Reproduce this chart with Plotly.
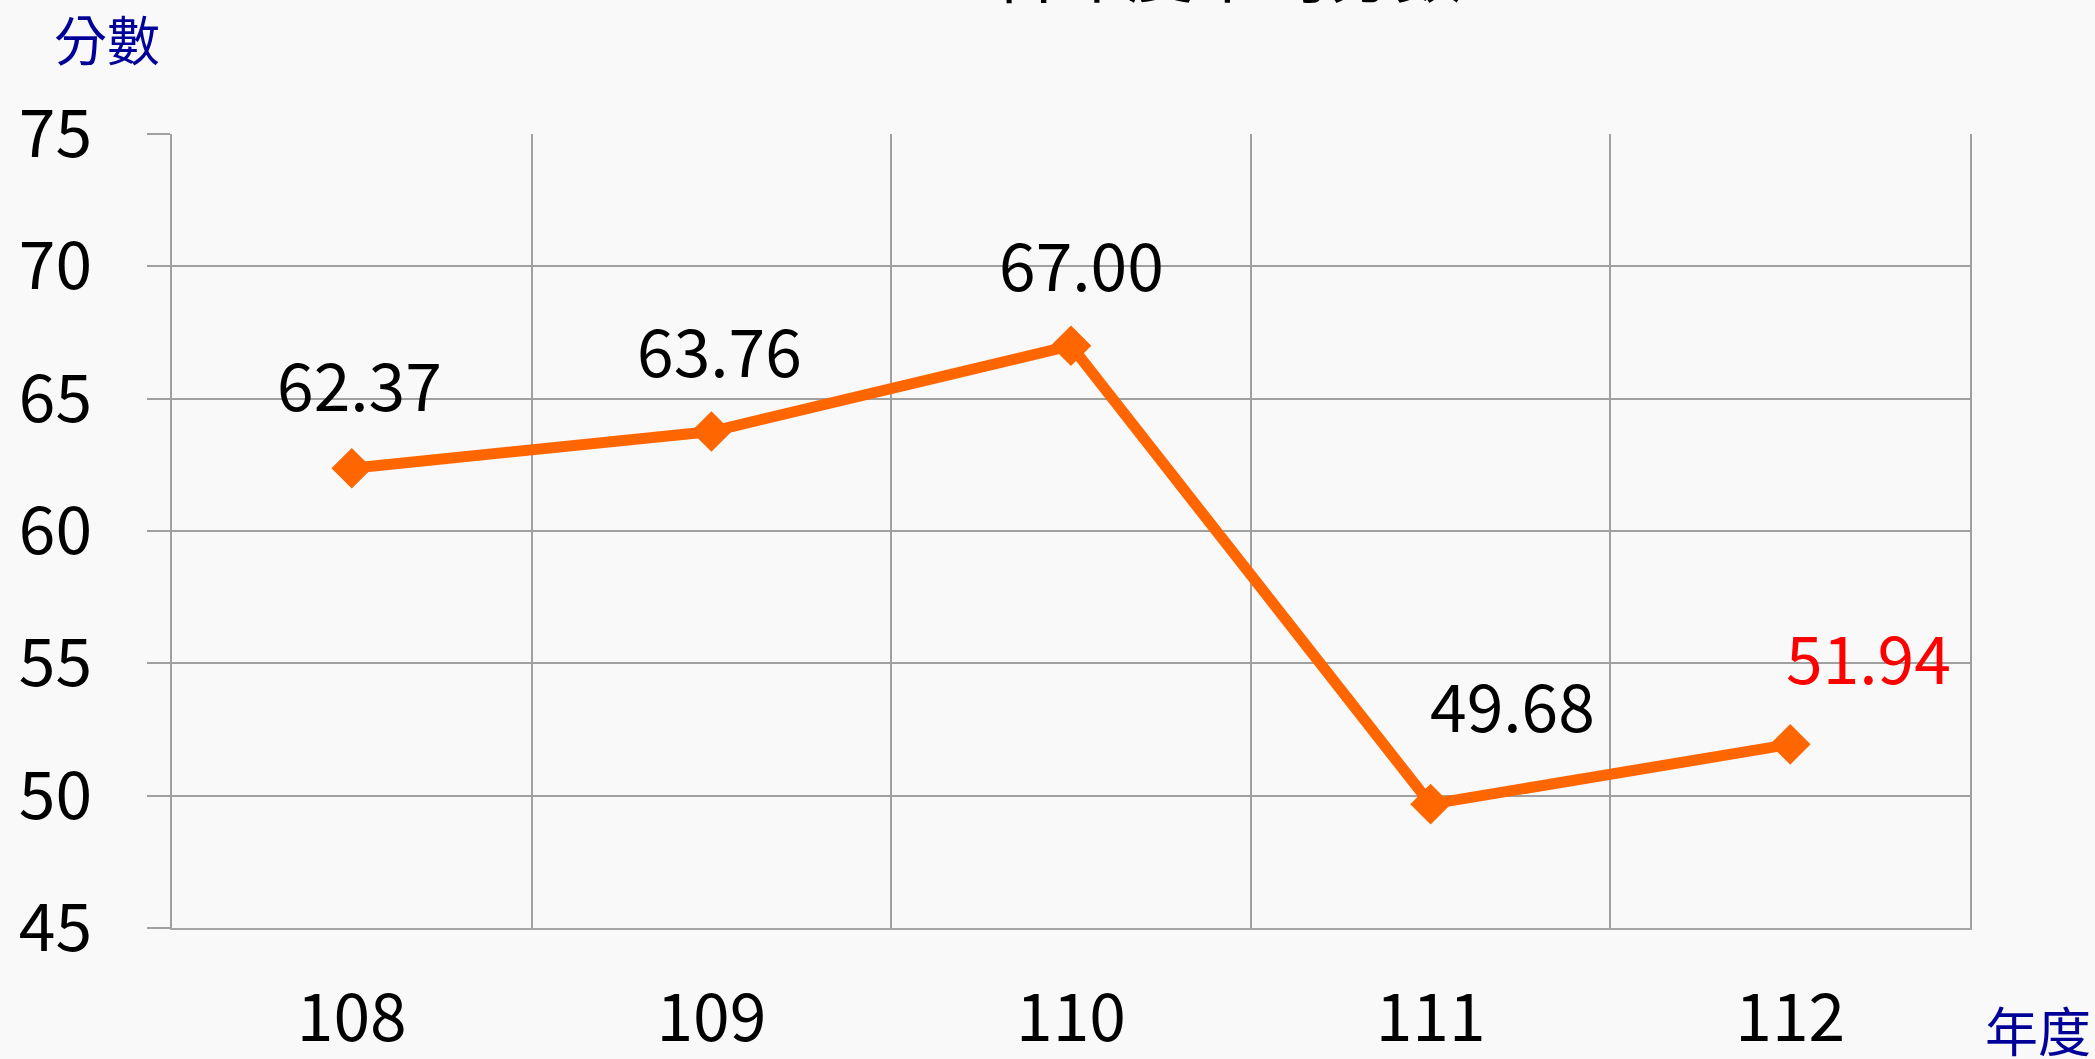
import plotly.graph_objects as go

years = ["108", "109", "110", "111", "112"]
scores = [62.37, 63.76, 67.00, 49.68, 51.94]
label_colors = ["#000000", "#000000", "#000000", "#000000", "#FF0000"]
y_ticks = [45, 50, 55, 60, 65, 70, 75]
title_text = "各年度平均分數"
y_title = "分數"
x_title = "年度"

FONT = "Noto Sans CJK TC"
xs = list(range(len(years)))

fig = go.Figure()
fig.add_trace(go.Scatter(
    x=xs, y=scores, mode="lines+markers",
    line=dict(color="#FF6600", width=11),
    marker=dict(symbol="diamond", size=28, color="#FF6600",
                line=dict(color="#FF6600", width=3)),
    showlegend=False, hoverinfo="skip",
))

label_xshift = [8, 8, 10, 82, 78]
label_yshift = [86, 83, 84, 101, 89]
for i, (x, v, c) in enumerate(zip(xs, scores, label_colors)):
    fig.add_annotation(x=x, y=v, text=f"{v:.2f}", showarrow=False,
                       xshift=label_xshift[i], yshift=label_yshift[i],
                       font=dict(family=FONT, size=66, color=c))

fig.add_annotation(xref="paper", yref="paper", x=0.587, y=1.146,
                   xanchor="center", yanchor="bottom",
                   text=title_text, showarrow=False,
                   font=dict(family=FONT, size=67, color="#000000"))
fig.add_annotation(xref="paper", yref="paper", x=-0.036, y=1.121,
                   xanchor="center", yanchor="middle",
                   text=y_title, showarrow=False,
                   font=dict(family=FONT, size=53, color="#000099"))
fig.add_annotation(xref="paper", yref="paper", x=1.038, y=-0.127,
                   xanchor="center", yanchor="middle",
                   text=x_title, showarrow=False,
                   font=dict(family=FONT, size=53, color="#000099"))

fig.update_layout(
    width=2095, height=1059,
    margin=dict(l=172, r=125, t=134, b=131, autoexpand=False),
    paper_bgcolor="#F9F9F9", plot_bgcolor="#F9F9F9",
    font=dict(family=FONT, color="#000000"),
    xaxis=dict(
        range=[-0.5, 4.5], tickmode="array", tickvals=xs, ticktext=years,
        showgrid=False, zeroline=False, ticks="", automargin=False,
        tickfont=dict(family=FONT, size=66, color="#000000"),
        ticklabelstandoff=32,
        showline=True, linecolor="#A6A6A6", linewidth=2,
        minor=dict(tickmode="array", tickvals=[-0.5, 0.5, 1.5, 2.5, 3.5, 4.5],
                   showgrid=True, gridcolor="#A0A0A0", gridwidth=1.5, ticks=""),
        fixedrange=True,
    ),
    yaxis=dict(
        range=[45, 75], tickmode="array", tickvals=y_ticks, automargin=False,
        showgrid=True, gridcolor="#A0A0A0", gridwidth=1.5, zeroline=False,
        ticks="outside", ticklen=23, tickcolor="#A0A0A0", tickwidth=1.5,
        tickfont=dict(family=FONT, size=66, color="#000000"),
        ticklabelstandoff=42,
        showline=True, linecolor="#A0A0A0", linewidth=1.5, mirror=True,
        fixedrange=True,
    ),
)

fig.write_html(
    "out.html",
    config={"displayModeBar": False},
    post_script="document.body.style.margin='0';document.body.style.background='#F9F9F9';document.body.style.overflow='hidden';",
)
